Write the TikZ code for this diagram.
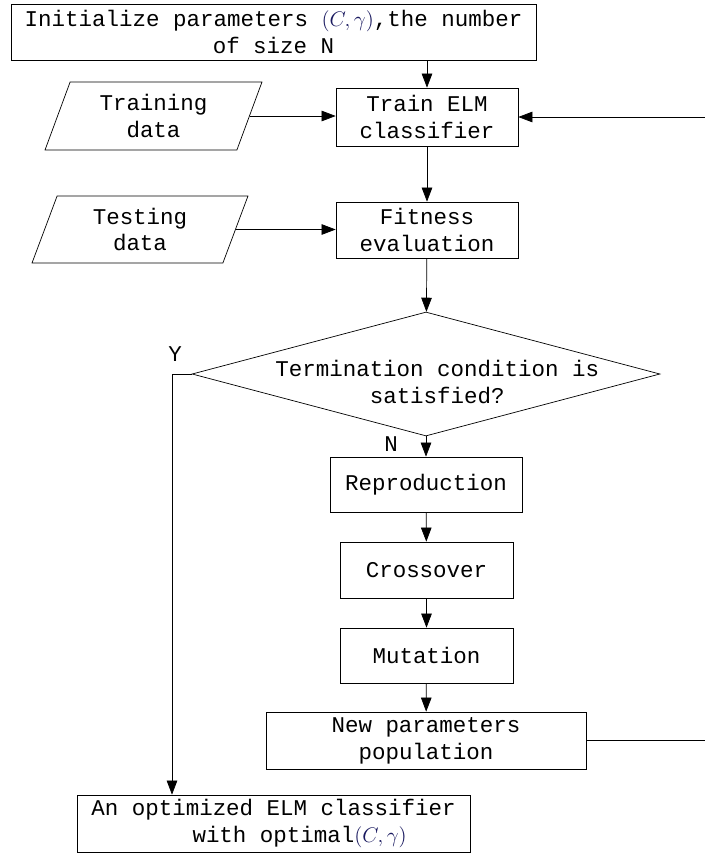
\documentclass[tikz,border=0pt]{standalone}
\usepackage{fontspec}
\setmainfont{Liberation Mono}
\usepackage{tikz}
\usetikzlibrary{positioning,calc,shapes.geometric,arrows.meta}

\definecolor{parnavy}{RGB}{25,25,95}
\newcommand{\Cg}{\textcolor{parnavy}{$\bigl(C,\gamma\bigr)$}}

\begin{document}
\begin{tikzpicture}[x=0.02cm,y=-0.02cm,
    font=\fontsize{12.8}{15.3}\selectfont,
    box/.style={draw,rectangle,align=center,inner sep=0pt},
    iobox/.style={draw,trapezium,trapezium left angle=60,trapezium right angle=120,
        trapezium stretches body,align=center,inner sep=0pt},
    arr/.style={-{Triangle[length=8pt,width=6pt]}}]
    \useasboundingbox (0,0) rectangle (704,856);
    \node (init) [box,minimum width=10.5cm,minimum height=1.12cm] at (273.5,32)
        {Initialize parameters \Cg,the number\\of size N};
    \node (train) [box,minimum width=3.64cm,minimum height=1.16cm] at (427,117) {Train ELM\\classifier};
    \node (trdata) [iobox,minimum width=4.34cm,minimum height=1.36cm] at (153.5,116) {Training\\data};
    \node (fit) [box,minimum width=3.64cm,minimum height=1.12cm] at (427,230) {Fitness\\evaluation};
    \node (tsdata) [iobox,minimum width=4.32cm,minimum height=1.34cm] at (140,229.5) {Testing\\data};
    \node (cond) [draw,diamond,aspect=3.77,inner sep=-10pt,align=center,
        minimum width=9.36cm,minimum height=2.48cm] at (426,374)
        {\rule{0pt}{18pt}\hspace{1em}Termination condition is\\\hspace{1em}satisfied?};
    \node (repro) [box,minimum width=3.84cm,minimum height=1.1cm] at (426,484.5) {Reproduction};
    \node (cross) [box,minimum width=3.46cm,minimum height=1.12cm] at (426.5,570) {Crossover};
    \node (mut) [box,minimum width=3.46cm,minimum height=1.1cm] at (426.5,655.5) {Mutation};
    \node (newpop) [box,minimum width=6.4cm,minimum height=1.14cm] at (426,740.5) {New parameters\\population};
    \node (final) [box,align=left,minimum width=7.86cm,minimum height=1.14cm] at (273.5,823.5)
        {An optimized ELM classifier\\\hspace*{4.5em}with optimal\Cg};
    \node (ylab) at (175,354) {Y};
    \node (nlab) at (391,444) {N};
    \coordinate (ycorner) at (172,374);
    \coordinate (fbbot) at (706,740.5);
    \coordinate (fbtop) at (706,117);
    \draw[arr] (init.south -| train.north) -- (train.north);
    \draw[arr] (trdata.east) -- (trdata.east -| train.west);
    \draw[arr] (train) -- (fit);
    \draw[arr] (tsdata.east) -- (tsdata.east -| fit.west);
    \draw[arr] (fit) -- (cond);
    \draw[arr] (cond) -- (repro);
    \draw[arr] (repro) -- (cross);
    \draw[arr] (cross) -- (mut);
    \draw[arr] (mut) -- (newpop);
    \draw[arr] (cond.west) -- (ycorner) -- (final.north -| ycorner);
    \draw[arr] (newpop.east) -- (fbbot) -- (fbtop) -- (train.east);
\end{tikzpicture}
\end{document}
